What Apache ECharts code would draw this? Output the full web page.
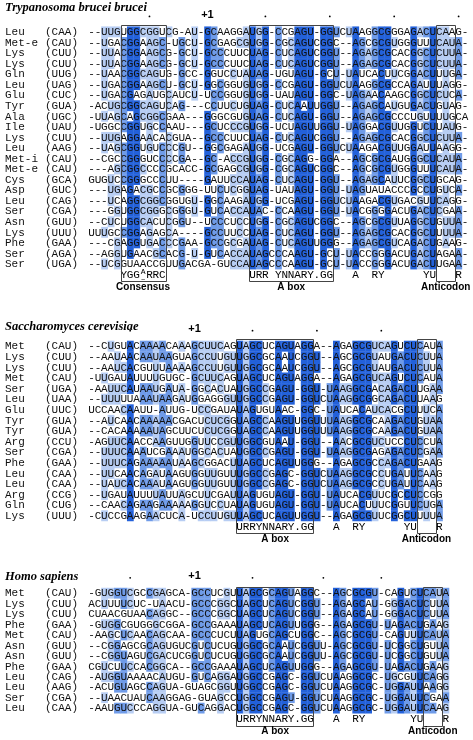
<!DOCTYPE html>
<html><head><meta charset="utf-8">
<script src="https://cdn.jsdelivr.net/npm/echarts@6/dist/echarts.min.js"></script>
<style>html,body{margin:0;padding:0;background:#fff}#c{width:473px;height:740px}</style>
</head><body><div id="c"></div>
<script>
// ---------------- DATA ----------------
const tbTitle = 'Trypanosoma brucei brucei';
const tbNames = ['Leu','Met-e','Lys','Lys','Gln','Leu','Glu','Tyr','Ala','Ile','Lys','Leu','Met-i','Met-e','Cys','Asp','Leu','Ser','Asn','Lys','Phe','Ser','Ser'];
const tbAnticodons = ['CAA','CAU','CUU','CUU','UUG','UAG','CUC','GUA','UGC','UAU','CUU','AAG','CAU','CAU','GCA','GUC','CAG','CGA','GUU','UUU','GAA','AGA','UGA'];
const tbSeqs = [
 '--UUGUGGCGGUCG-AU-GCAAG'+'GAUGG-CCGAGU-GGUCUAAGGCGGGAGACUCAAG-',
 '--UGACGGAAGC-UGCU-GCGAG'+'CGUGG-CGCAGUCGGC--AGCGCGUGGGUUUCAUA-',
 '--UUACGGAAGCG-GCU-GCCCU'+'UCUAG-CUCAGUCGGU--AGAGCGCACGGCUCUUA-',
 '--UUACGGAAGCG-GCU-GCCCU'+'UCUAG-CUCAGUCGGU--AGAGCGCACGGCUCUUA-',
 '--UAACGGCAGUG-GCC-GGUCC'+'UAUAG-UGUAGU-GCU-UAUCACUUCGGACUUUGA-',
 '--UGACGGAAGCU-GCU-GGCGG'+'UGUGG-CCGAGU-GGUCUAAGGCGCCAGAUUUAGG-',
 '--UGACGAGAUGCAUCU-UCCGG'+'UGUGG-UAUAGU-GGC-UAGAACAAGCGGCUCUCA-',
 '-ACUGCGGCAGUCAG---CCUUC'+'UGUAG-CUCAAUUGGU--AGAGCAUGUGACUGUAG-',
 '-UUAGCAGCGGCGAA---GGGCG'+'UGUAG-CUCAGU-GGU--AGAGCGCCCUGUUUUGCA',
 '-UGGCCGGUGCCAAU---GCUCC'+'CGUGG-UCUAGUUGGU-UAGGACGUUGGUCUUAUG-',
 '--UUGAGGAACACGUA--GCCCU'+'UCUAG-CUCAGUCGGU--AGAGCGCACGGCUCUUA-',
 '--UAGCGGUGUCCCGU--GGCGA'+'GAUGG-UCGAGU-GGUCUAAGACGUUGGAUUAAGG-',
 '--CGCCGGGUCCCCGA--GC-AC'+'CGUGG-CGCAGG-GGA--AGCGCGAUGGGCUCAUA-',
 '---AGCGGCCCCGCACC-GCGAG'+'CGUGG-CGCAGUCGGC--AGCGCGUGGGUUUCAUA-',
 'GUGUCCGGGCCCUU----GAUUC'+'CAUAG-CUCAGU-GGU--AGAGCAUUCGGCUGCAG-',
 '---UGAGACGCCGCGGG-UUCUC'+'GGUAG-UAUAGU-GGU-UAGUAUACCCGCCUGUCA-',
 '---UCAGGCGGCGGUGU-GGCAA'+'GAUGG-UCGAGU-GGUCUAAGACGUGACGUUCAGG-',
 '---GGUGGCGGGCGGGU-GUCAC'+'CAUAC-CCAAGU-GGU-UACGGGGACUGACUCGAA-',
 '--CUCUGGCACUCGGU--UCCCU'+'CCUGG-CGCAGUCGGC--AGCGCGUUAGGCUGUUA-',
 'UUUGCCGGAGAGCA----GCCUU'+'CCUAG-CUCAGU-GGU--AGAGCGCACGGCUUUUA-',
 '---CGAGGUGACCCGAA-GCCGC'+'GAUAG-CUCAGUUGGG--AGAGCGUCAGACUGAAG-',
 '--AGGUGAACGCACG-U-GUCAC'+'CAUAGCCCAAGU-GCU-UACCGGGACUGACUAGAA-',
 '--UCGGUAACCGUUGACGA-GUC'+'CAUAGCCCAAGU-GCU-UACCGGGACUGACUUGAA-'
];
const tbDots = [10, 28, 38, 48, 58];
const tbPlusOne = 19;
const tbConsensus = [[6,'YGG'],[10,'RRC'],[26,'URR YNNARY.GG'],[42,'A'],[45,'RY'],[53,'YU'],[58,'R']];
const tbStacked = [[9,'A','\u2013']];
const tbBoxes = [[6,12,'Consensus'],[26,38,'A box'],[55,57,'Anticodon']];

const scTitle = 'Saccharomyces cerevisiae';
const scNames = ['Met','Lys','Lys','Met','Ser','Leu','Glu','Tyr','Tyr','Arg','Ser','Phe','Leu','Leu','Arg','Gln','Lys'];
const scAnticodons = ['CAU','CUU','CUU','CAU','UGA','UAA','UUC','GUA','GUA','CCU','CGA','GAA','CAA','CAA','CCG','CUG','UUU'];
const scSeqs = [
 '--CUGUACAAAACAAAGCUUCAG'+'UAGCUCAGUAGGA--AGAGCGUCAGUCUCAUA',
 '--AAUAACAAUAAGUAGCCUUGU'+'UGGCGCAAUCGGU--AGCGCGUAUGACUCUUA',
 '--AAUCACGUUUAAAAGCCUUGU'+'UGGCGCAAUCGGU--AGCGCGUAUGACUCUUA',
 '-UUGAUAUUUUGUGC-GCUUCAG'+'UAGCUCAGUAGGA--AGAGCGUCAGUCUCAUA',
 '-AAUUCAUAAUGAUA-GGCACUA'+'UGGCCGAGU-GGU-UAAGGCGACAGACUUGAA',
 '--UUUUUAAAUAAGAUGGAGGGU'+'UGGCCGAGU-GGUCUAAGGCGGCAGACUUAAG',
 'UCCAACAAUU-AUUG-UCCGAUA'+'UAGUGUAAC-GGC-UAUCACAUCACGCUUUCA',
 '--AUCAACAAAAACGACUCUCGG'+'UAGCCAAGUUGGUUUAAGGCGCAAGACUGUAA',
 '--CACAAAAAUAGCUUCUCUCGG'+'UAGCCAAGUUGGUUUAAGGCGCAAGACUGUAA',
 '-AGUUCAACCAAGUUGGUUCCGU'+'UGGCGUAAU-GGU--AACGCGUCUCCCUCCUA',
 '--UUUCAAAUCGAAAUGGCACUA'+'UGGCCGAGU-GGU-UAAGGCGAGAGACUCGAA',
 '--UUUCAGAAAAAUAAGCGGACU'+'UAGCUCAGUUGGG--AGAGCGCCAGACUGAAG',
 '--UUCAACAGAUAAGUGGUUGUU'+'UGGCCGAGC-GGUCUAAGGCGCCUGAUUCAAG',
 '--UAUCACAAAUAAGUGGUUGUU'+'UGGCCGAGC-GGUCUAAGGCGCCUGAUUCAAG',
 '--UGAUAUUUUAUUAGCUUCGAU'+'UAGUGUAGU-GGU-UAUCACGUUCGCCUCCGG',
 '--CAACAGAAGAAAAAGGUCCUA'+'UAGUGUAGU-GGU-UAUCACUUUCGGUUCUGA',
 '-CUCCGAAGAACUCA-UCCUUGU'+'UAGCUCAGUUGGU--AGAGCGUUCGGCUUUUA'
];
const scDots = [7, 26, 36, 46];
const scPlusOne = 17;
const scConsensus = [[24,'URRYNNARY.GG'],[39,'A'],[42,'RY'],[50,'YU'],[55,'R']];
const scBoxes = [[24,35,'A box'],[52,54,'Anticodon']];

const hsTitle = 'Homo sapiens';
const hsNames = ['Met','Lys','Lys','Phe','Met','Asn','Asn','Phe','Leu','Leu','Ser','Leu'];
const hsAnticodons = ['CAU','CUU','CUU','GAA','CAU','GUU','GUU','GAA','CAG','AAG','CGA','CAA'];
const hsSeqs = [
 '-GUGGUCGCCGAGCA-GCCUCGU'+'UAGCGCAGUAGGC--AGCGCGU-CAGUCUCAUA',
 'ACUUUUCUC-UAACU-GCCCGGC'+'UAGCUCAGUCGGU--AGAGCAU-GGGACUCUUA',
 'CUAACGUAACAGGC--GCCCGGC'+'UAGCUCAGUCGGU--AGAGCAU-GGGACUCUUA',
 '-GUGGCGUGGGCGGA-GCCGAAA'+'UAGCUCAGUUGGG--AGAGCGU-UAGACUGAAG',
 '-AAGCUCAACAGCAA-GCCCUCU'+'UAGUGCAGCUGGC--AGCGCGU-CAGUUUCAUA',
 '--CGGAGCGCAGUGUCGUCUCUG'+'UGGCGCAAUCGGUU-AGCGCGU-UCGGCUGUUA',
 '--CGGUAGUCGACUCGGUCUCUG'+'UGGCGCAAUCGGUU-AGCGCGU-UCGGCUGUUA',
 'CGUCUUCCACGGCA--GCCGAAA'+'UAGCUCAGUUGGG--AGAGCGU-UAGACUGAAG',
 '-AUGGUAAAACAUGU-GUCAGGA'+'UGGCCGAGC-GGUCUAAGGCGC-UGCGUUCAGG',
 '-ACUGUAGCCAGUA-GUAGCGGU'+'UGGCCGAGC-GGUCUAAGGCGC-UGGAUUAAGG',
 '--UAACUAUCAAGGAG-GUAGCC'+'UGGCCGAGU-GGUCUAAGGCGC-UGGAUUCGAA',
 '-AAUGUCCCAGGUA-GUCAGGAC'+'UGGCCGAGC-GGUCUAAGGCGC-UGGAUUCAAG'
];
const hsDots = [7, 26, 37, 46];
const hsPlusOne = 17;
const hsConsensus = [[24,'URRYNNARY.GG'],[39,'A'],[42,'RY'],[51,'YU'],[56,'R']];
const hsBoxes = [[24,35,'A box'],[53,55,'Anticodon']];

// ---------------- STYLE / LAYOUT ----------------
const CELL_W = 6.44, SEQ_LEFT = 88.3;
const COLORS = [null, '#b7cdf3', '#6f9be8', '#2361da'];
const MONO = '"Liberation Mono", "DejaVu Sans Mono", monospace';
const panels = [
  {title: tbTitle, names: tbNames, anti: tbAnticodons, seqs: tbSeqs, dots: tbDots, plus: tbPlusOne, cons: tbConsensus, stacked: tbStacked, boxes: tbBoxes, titleY: 8.5, row1: 31.7, pitch: 10.55},
  {title: scTitle, names: scNames, anti: scAnticodons, seqs: scSeqs, dots: scDots, plus: scPlusOne, cons: scConsensus, stacked: [], boxes: scBoxes, titleY: 327, row1: 346, pitch: 10.6},
  {title: hsTitle, names: hsNames, anti: hsAnticodons, seqs: hsSeqs, dots: hsDots, plus: hsPlusOne, cons: hsConsensus, stacked: [], boxes: hsBoxes, titleY: 577, row1: 593, pitch: 10.45}
];

function computeLevels(seqs, ncols){
  const n = seqs.length;
  const lv = seqs.map(() => new Array(ncols).fill(0));
  for (let c = 0; c < ncols; c++){
    const cnt = {};
    seqs.forEach(s => { const ch = s[c]; if (ch && ch !== '-') cnt[ch] = (cnt[ch] || 0) + 1; });
    seqs.forEach((s, r) => {
      const ch = s[c]; if (!ch || ch === '-') return;
      const f = cnt[ch] / n;
      lv[r][c] = f > 0.75 ? 3 : f > 0.55 ? 2 : f > 0.38 ? 1 : 0;
    });
  }
  return lv;
}

const EXTRA = 2.4;
const grids = [], xAxes = [], yAxes = [], series = [], titles = [];
panels.forEach((P, pi) => {
  const nrows = P.seqs.length;
  const ncols = Math.max.apply(null, P.seqs.map(s => s.length));
  P.ncols = ncols; P.nrows = nrows;
  P.levels = computeLevels(P.seqs, ncols);
  grids.push({left: SEQ_LEFT, top: P.row1 - P.pitch / 2, width: ncols * CELL_W, height: (nrows + EXTRA) * P.pitch});
  xAxes.push({gridIndex: pi, type: 'value', min: 0, max: ncols, show: false});
  yAxes.push({gridIndex: pi, type: 'value', min: 0, max: nrows + EXTRA, inverse: true, show: false});
  titles.push({text: P.title, left: 5, top: P.titleY - 7, padding: 0,
    textStyle: {fontFamily: '"Liberation Serif", serif', fontStyle: 'italic', fontWeight: 'bold', fontSize: 12.5, color: '#000'}});

  const cellData = [];
  for (let r = 0; r < nrows; r++) for (let c = 0; c < ncols; c++) cellData.push([c, r]);
  series.push({
    type: 'custom', xAxisIndex: pi, yAxisIndex: pi, data: cellData, silent: true, animation: false,
    renderItem: function(params, api){
      const c = api.value(0), r = api.value(1);
      const ch = P.seqs[r][c] || '';
      const lv = P.levels[r][c];
      const a = api.coord([c, r]), b = api.coord([c + 1, r + 1]);
      const kids = [];
      if (lv > 0) kids.push({type: 'rect', shape: {x: a[0], y: a[1], width: b[0] - a[0] + 0.35, height: b[1] - a[1] + 0.35}, style: {fill: COLORS[lv]}});
      kids.push({type: 'text', style: {text: ch, x: (a[0] + b[0]) / 2, y: (a[1] + b[1]) / 2 + 0.5, align: 'center', verticalAlign: 'middle', font: '11px ' + MONO, fill: '#111'}});
      return {type: 'group', children: kids};
    }
  });

  series.push({
    type: 'custom', xAxisIndex: pi, yAxisIndex: pi, data: P.names.map((n, r) => [0, r]), silent: true, animation: false,
    renderItem: function(params, api){
      const r = api.value(1);
      const p = api.coord([0, r + 0.5]);
      return {type: 'group', children: [
        {type: 'text', style: {text: P.names[r], x: 5, y: p[1] + 0.5, align: 'left', verticalAlign: 'middle', font: '11px ' + MONO, fill: '#111'}},
        {type: 'text', style: {text: '(' + P.anti[r] + ')', x: 45, y: p[1] + 0.5, align: 'left', verticalAlign: 'middle', font: '11px ' + MONO, fill: '#111'}}
      ]};
    }
  });

  series.push({
    type: 'custom', xAxisIndex: pi, yAxisIndex: pi, data: [[0, 0]], silent: true, animation: false,
    renderItem: function(params, api){
      const kids = [];
      P.dots.forEach(col => {
        const p = api.coord([col - 0.5, -0.95]);
        kids.push({type: 'circle', shape: {cx: p[0], cy: p[1], r: 0.9}, style: {fill: '#000'}});
      });
      const pp = api.coord([P.plus - 0.5, -1.1]);
      kids.push({type: 'text', style: {text: '+1', x: pp[0], y: pp[1], align: 'center', verticalAlign: 'middle', font: 'bold 11px "Liberation Sans", Arial, sans-serif', fill: '#000'}});
      const cy = P.nrows + 0.6;
      P.cons.forEach(([start, txt]) => {
        for (let i = 0; i < txt.length; i++){
          if (txt[i] === ' ') continue;
          const p = api.coord([start - 1 + i + 0.5, cy]);
          kids.push({type: 'text', style: {text: txt[i], x: p[0], y: p[1], align: 'center', verticalAlign: 'middle', font: '11px ' + MONO, fill: '#000'}});
        }
      });
      P.stacked.forEach(([col, top, bot]) => {
        const p1 = api.coord([col - 0.5, cy - 0.3]);
        const p2 = api.coord([col - 0.5, cy + 0.3]);
        kids.push({type: 'text', style: {text: top, x: p1[0], y: p1[1], align: 'center', verticalAlign: 'middle', font: '8px ' + MONO, fill: '#000'}});
        kids.push({type: 'text', style: {text: bot, x: p2[0], y: p2[1], align: 'center', verticalAlign: 'middle', font: '8px ' + MONO, fill: '#000'}});
      });
      P.boxes.forEach(([c1, c2, label]) => {
        const a = api.coord([c1 - 1, -0.12]);
        const b = api.coord([c2, P.nrows + 1.15]);
        kids.push({type: 'rect', shape: {x: Math.round(a[0]) + 0.5, y: Math.round(a[1]) + 0.5, width: Math.round(b[0] - a[0]), height: Math.round(b[1] - a[1])}, style: {fill: 'none', stroke: '#444', lineWidth: 1}});
        const lp = api.coord([(c1 - 1 + c2) / 2, P.nrows + 1.75]);
        kids.push({type: 'text', style: {text: label, x: lp[0], y: lp[1], align: 'center', verticalAlign: 'middle', font: 'bold 10px "Liberation Sans", Arial, sans-serif', fill: '#000'}});
      });
      return {type: 'group', children: kids};
    }
  });
});

const chart = echarts.init(document.getElementById('c'), null, {renderer: 'canvas'});
chart.setOption({animation: false, backgroundColor: '#fff', title: titles, grid: grids, xAxis: xAxes, yAxis: yAxes, series: series});
</script></body></html>
